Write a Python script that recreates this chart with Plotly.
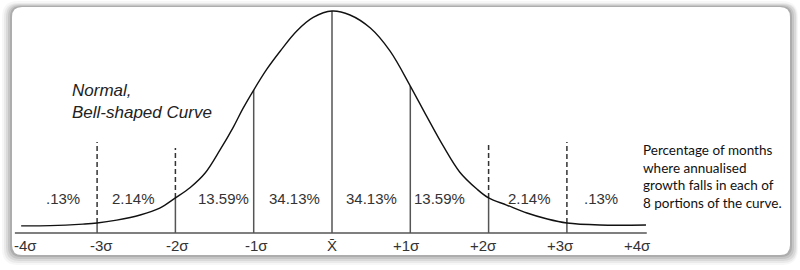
import numpy as np
import plotly.graph_objects as go

# ---------------- data ----------------
curve_sigma = [-3.97, -3.60, -3.18, -3.0, -2.75, -2.45, -2.2, -2.0, -1.81, -1.62,
               -1.43, -1.26, -1.14, -1.0, -0.83, -0.66, -0.45, -0.24, 0.0, 0.23,
               0.49, 0.74, 1.0, 1.21, 1.42, 1.63, 1.85, 2.0, 2.23, 2.49,
               2.75, 3.0, 3.42, 4.01]
curve_height = [0.032, 0.033, 0.040, 0.045, 0.058, 0.081, 0.112, 0.158, 0.205, 0.270,
                0.374, 0.477, 0.559, 0.644, 0.739, 0.820, 0.910, 0.971, 1.0, 0.982,
                0.923, 0.820, 0.662, 0.525, 0.392, 0.275, 0.198, 0.158, 0.126, 0.090,
                0.063, 0.045, 0.036, 0.036]

solid_dividers = [-3, -2, -1, 0, 1, 2, 3]
dashed_dividers = [-3, -2, 2, 3]
dashed_tops = [0.41, 0.383, 0.41, 0.41]

segment_labels = [".13%", "2.14%", "13.59%", "34.13%", "34.13%", "13.59%", "2.14%", ".13%"]
segment_label_x = [-3.44, -2.53, -1.38, -0.485, 0.50, 1.37, 2.52, 3.44]

tick_labels = ["-4σ", "-3σ", "-2σ", "-1σ", "X̄", "+1σ", "+2σ", "+3σ", "+4σ"]
tick_label_x = [-3.91, -2.95, -1.97, -0.97, 0.0, 0.95, 1.94, 2.92, 3.90]

title_text = "<i>Normal,<br>Bell-shaped Curve</i>"
note_text = ("Percentage of months<br>where annualised<br>"
             "growth falls in each of<br>8 portions of the curve.")

# ---------------- figure ----------------
W, H = 800, 270
X0, XS = 332.0, 78.3      # pixel of mean, pixels per sigma
Y0, YS = 233.0, 222.0     # pixel of baseline, pixels per unit height

fig = go.Figure()

line_col = "#555555"
# baseline
fig.add_trace(go.Scatter(x=[-4.05, 4.02], y=[0, 0], mode="lines",
                         line=dict(color=line_col, width=1.5), hoverinfo="skip"))
# solid dividers (baseline to curve)
for s in solid_dividers:
    top = float(np.interp(s, curve_sigma, curve_height))
    fig.add_trace(go.Scatter(x=[s, s], y=[0, top], mode="lines",
                             line=dict(color=line_col, width=1.5), hoverinfo="skip"))
# dashed dividers (above curve)
for s, t in zip(dashed_dividers, dashed_tops):
    bottom = float(np.interp(s, curve_sigma, curve_height))
    fig.add_trace(go.Scatter(x=[s, s], y=[bottom, t], mode="lines",
                             line=dict(color="#333333", width=1.5, dash="5px,3px"),
                             hoverinfo="skip"))
# bell curve
fig.add_trace(go.Scatter(x=curve_sigma, y=curve_height, mode="lines",
                         line=dict(color="#111111", width=1.4, shape="spline", smoothing=1.0),
                         hoverinfo="skip"))

annotations = []
for lab, x in zip(segment_labels, segment_label_x):
    annotations.append(dict(x=x, y=(Y0 - 198) / YS, xref="x", yref="y", text=lab,
                            showarrow=False, xanchor="center", yanchor="middle",
                            font=dict(family="Liberation Sans, Arial", size=15, color="#333333")))
for lab, x in zip(tick_labels, tick_label_x):
    annotations.append(dict(x=x, y=(Y0 - 245) / YS, xref="x", yref="y", text=lab,
                            showarrow=False, xanchor="center", yanchor="middle",
                            font=dict(family="Liberation Sans, Arial", size=15, color="#333333")))
annotations.append(dict(x=70 / W, y=1 - 101.5 / H, xref="paper", yref="paper",
                        text=title_text, showarrow=False, xanchor="left", yanchor="middle",
                        align="left",
                        font=dict(family="Liberation Sans, Arial", size=17, color="#222222")))
annotations.append(dict(x=641 / W, y=1 - 176.5 / H, xref="paper", yref="paper",
                        text=note_text, showarrow=False, xanchor="left", yanchor="middle",
                        align="left",
                        font=dict(family="Lato, Open Sans", size=13.5, color="#111111")))


def rrect(x0, y0, x1, y1, r):
    """rounded rectangle path in paper coords from pixel coords"""
    def px(x):
        return x / W

    def py(y):
        return 1 - y / H
    return (f"M{px(x0 + r)},{py(y0)} L{px(x1 - r)},{py(y0)} "
            f"Q{px(x1)},{py(y0)} {px(x1)},{py(y0 + r)} "
            f"L{px(x1)},{py(y1 - r)} Q{px(x1)},{py(y1)} {px(x1 - r)},{py(y1)} "
            f"L{px(x0 + r)},{py(y1)} Q{px(x0)},{py(y1)} {px(x0)},{py(y1 - r)} "
            f"L{px(x0)},{py(y0 + r)} Q{px(x0)},{py(y0)} {px(x0 + r)},{py(y0)} Z")


shapes = []
for (a, b, c, d, r, op) in [(2, 1, 798, 265, 16, 0.03), (4, 3, 797, 263, 14, 0.05),
                            (6, 4, 796, 261, 13, 0.07), (8, 5, 794, 259, 12, 0.09),
                            (10, 6, 792, 257, 11, 0.12)]:
    shapes.append(dict(type="path", path=rrect(a, b, c, d, r), xref="paper", yref="paper",
                       fillcolor=f"rgba(0,0,0,{op})", line=dict(width=0), layer="below"))
shapes.append(dict(type="path", path=rrect(12, 7, 790, 255, 10), xref="paper", yref="paper",
                   fillcolor="white", line=dict(width=0), layer="below"))

fig.update_layout(
    width=W, height=H,
    margin=dict(l=0, r=0, t=0, b=0),
    paper_bgcolor="white", plot_bgcolor="rgba(0,0,0,0)",
    showlegend=False,
    xaxis=dict(range=[-X0 / XS, (W - X0) / XS], visible=False, fixedrange=True),
    yaxis=dict(range=[-(H - Y0) / YS, Y0 / YS], visible=False, fixedrange=True),
    annotations=annotations,
    shapes=shapes,
)

fig.write_html("out.html", config={"displayModeBar": False})
